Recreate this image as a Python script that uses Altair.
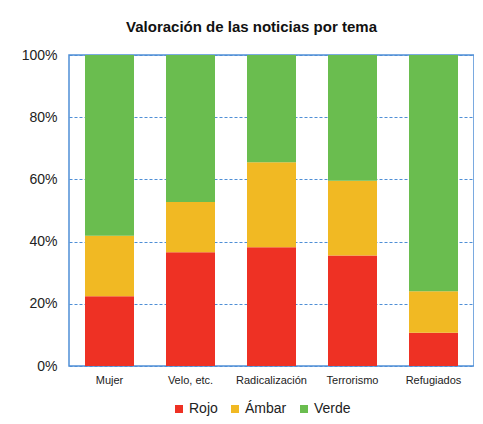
import altair as alt
import pandas as pd

temas = ["Mujer", "Velo, etc.", "Radicalización", "Terrorismo", "Refugiados"]
rojo = [22.4, 36.6, 38.2, 35.5, 10.7]
ambar = [19.5, 16.1, 27.3, 24.1, 13.3]
verde = [58.1, 47.3, 34.5, 40.4, 76.0]
series = ["Rojo", "Ámbar", "Verde"]
colores = ["#EE3124", "#F1B923", "#6ABD4F"]

rows = []
for i, t in enumerate(temas):
    for k, (s, vals) in enumerate(zip(series, [rojo, ambar, verde])):
        rows.append({"tema": t, "serie": s, "valor": vals[i] / 100.0, "orden": k})
df = pd.DataFrame(rows)

FONT = "Liberation Sans"
BLUE = "#4F8FD6"

bars = alt.Chart(df).mark_bar(size=49).encode(
    x=alt.X("tema:N", sort=temas, title=None,
            scale=alt.Scale(paddingInner=0.4, paddingOuter=0.2),
            axis=alt.Axis(labelAngle=0, labelFontSize=11, labelColor="#222",
                          labelFont=FONT, ticks=False, domain=False,
                          labelPadding=8)),
    y=alt.Y("valor:Q", stack="zero", title=None,
            scale=alt.Scale(domain=[0, 1], nice=False),
            axis=alt.Axis(format="%", values=[0, 0.2, 0.4, 0.6, 0.8, 1.0],
                          labelFontSize=14, labelColor="#222", labelFont=FONT,
                          ticks=False, domain=False, labelPadding=12,
                          grid=True, gridColor=BLUE, gridDash=[3, 2],
                          gridWidth=1, minExtent=61, maxExtent=61)),
    color=alt.Color("serie:N", sort=series,
                    scale=alt.Scale(domain=series, range=colores),
                    legend=alt.Legend(title=None, orient="none", direction="horizontal",
                                      legendX=103, legendY=347,
                                      symbolType="square", symbolSize=64,
                                      symbolStrokeWidth=0,
                                      labelFontSize=14, labelFont=FONT,
                                      labelColor="#222", labelOffset=3,
                                      columnPadding=10)),
    order=alt.Order("orden:Q"),
).properties(
    width=405, height=311,
    title=alt.TitleParams("Valoración de las noticias por tema", fontSize=15,
                          font=FONT, fontWeight="bold", color="#111",
                          anchor="middle", dx=-20, offset=13),
    padding={"left": 0, "top": 12, "right": 0, "bottom": 2},
)

chart = bars.configure_view(
    stroke=BLUE, strokeWidth=1.5
).configure_axis(
    gridOpacity=1
)

chart.save("out.html", embed_options={"renderer": "svg", "actions": False})
